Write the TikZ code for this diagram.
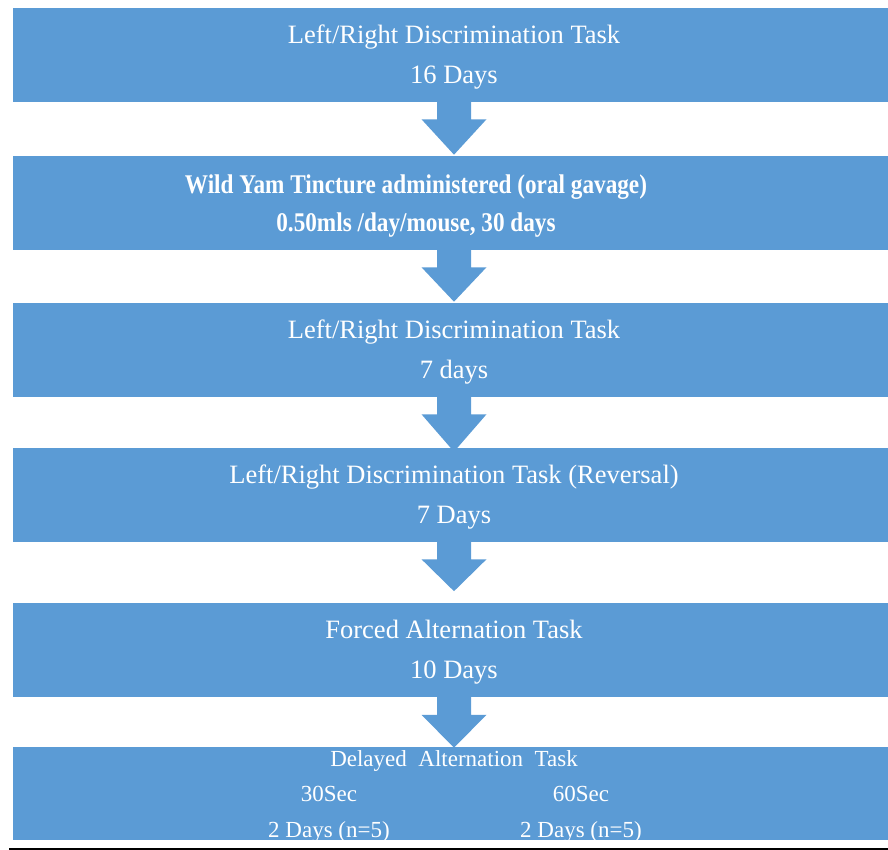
\documentclass[tikz,border=0pt]{standalone}
\usepackage{fontspec}
\setmainfont{Liberation Serif}
\newfontfamily\narrowbf[FakeStretch=0.86]{Liberation Serif Bold}
\usetikzlibrary{calc}
\definecolor{boxblue}{RGB}{91,155,213}

\begin{document}
\begin{tikzpicture}[x=1pt,y=-1pt,
  stage/.style={fill=boxblue,draw=white,line width=0.6pt,minimum width=884pt,minimum height=95pt,inner sep=0pt,
    text=white,align=center,font=\fontsize{26.5}{40}\selectfont},
  smalltxt/.style={text=white,align=center,inner sep=0pt,font=\fontsize{23}{36}\selectfont},
  bigarrow/.style={fill=boxblue}]

  \clip (0,0) rectangle (888,850);

  \node[stage] (b1) at (454,54.5) {\rule{0pt}{23pt}Left/Right Discrimination Task\\16 Days};
  \node[stage] (b2) at (454,202.5) {};
  \node[stage] (b3) at (454,349.5) {\rule{0pt}{23pt}Left/Right Discrimination Task\\7 days};
  \node[stage] (b4) at (454,494.5) {\rule{0pt}{23pt}Left/Right Discrimination Task (Reversal)\\7 Days};
  \node[stage] (b5) at (454,650) {\rule{0pt}{23pt}Forced Alternation Task\\10 Days};
  \node[stage,minimum height=94pt] (b6) at (454,793) {};

  \node[text=white,align=center,inner sep=0pt,font=\narrowbf\fontsize{27}{38}\selectfont]
     (yam) at ($(b2.center)+(-38,4)$) {Wild Yam Tincture administered (oral gavage)\\0.50mls /day/mouse, 30 days};

  \node[smalltxt] (delayed) at ($(b6.center)+(0,-32)$) {Delayed\ \ Alternation\ \ Task};
  \node[smalltxt] (sec30) at ($(b6.center)+(-125,21)$) {30Sec\\2 Days (n=5)};
  \node[smalltxt] (sec60) at ($(b6.center)+(127,21)$) {60Sec\\2 Days (n=5)};

  % block arrows, tip offset from the next box
  \foreach \a/\b/\t in {b1/b2/0,b2/b3/0,b3/b4/5,b4/b5/-11,b5/b6/2}{
    \fill[bigarrow] ($(\a.south)+(-17,-1)$) -- ++(0,18) -- ++(-15.5,0)
      -- ($(\b.north)+(0,\t)$) -- ($(\a.south)+(32.5,17)$) -- ++(-15.5,0)
      -- ($(\a.south)+(17,-1)$) -- cycle;
  }

  \draw[line width=1.5pt] (9,849) -- (888,849);
\end{tikzpicture}
\end{document}
